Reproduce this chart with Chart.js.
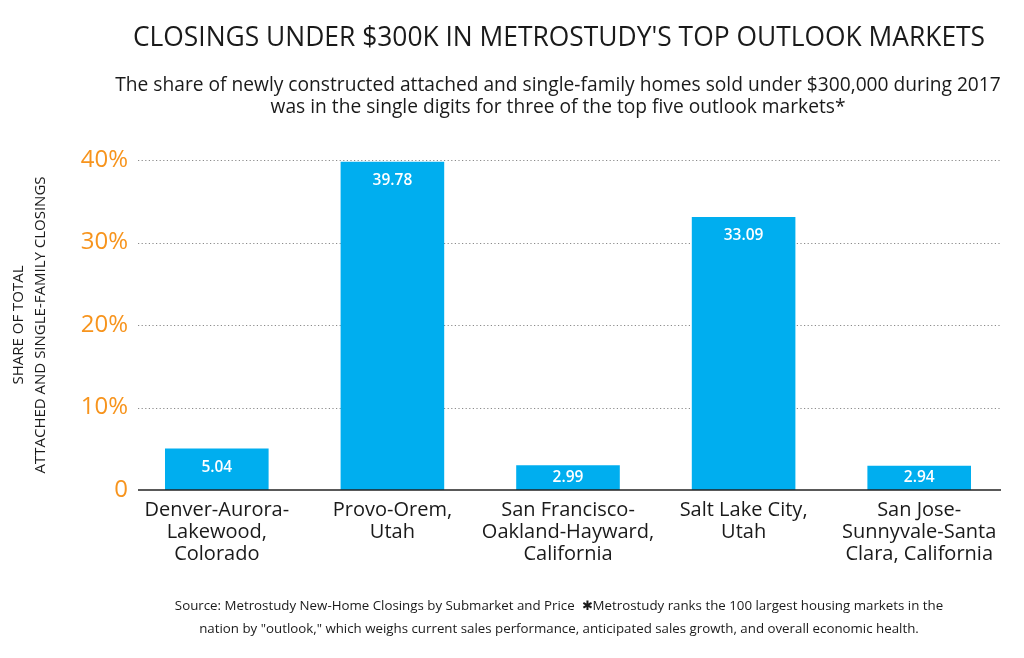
<!DOCTYPE html>
<html>
<head>
<meta charset="utf-8">
<script src="https://cdn.jsdelivr.net/npm/chart.js@4.4.1/dist/chart.umd.min.js"></script>
<style>
  html, body { margin: 0; padding: 0; background: #fff; }
  #wrap { width: 1024px; height: 658px; position: relative; }
</style>
</head>
<body>
<div id="wrap"><canvas id="closingsChart"></canvas></div>
<script>
// Data
const markets = [
    ['Denver-Aurora-', 'Lakewood,', 'Colorado'],
    ['Provo-Orem,', 'Utah'],
    ['San Francisco-', 'Oakland-Hayward,', 'California'],
    ['Salt Lake City,', 'Utah'],
    ['San Jose-', 'Sunnyvale-Santa', 'Clara, California']
];
const shareUnder300k = [5.04, 39.78, 2.99, 33.09, 2.94];
const yTicks = [0, 10, 20, 30, 40];

const titleText = "CLOSINGS UNDER $300K IN METROSTUDY'S TOP OUTLOOK MARKETS";
const subtitleLines = [
    'The share of newly constructed attached and single-family homes sold under $300,000 during 2017',
    'was in the single digits for three of the top five outlook markets*'
];
const footerLines = [
    'Source: Metrostudy New-Home Closings by Submarket and Price  \u2731Metrostudy ranks the 100 largest housing markets in the',
    'nation by "outlook," which weighs current sales performance, anticipated sales growth, and overall economic health.'
];

const barColor = '#00aeef';
const orange = '#f7941d';
const textColor = '#1a1a1a';
const fontFamily = "'Open Sans', 'Noto Sans', sans-serif";

// title, subtitle and footer text
const textPlugin = {
    id: 'textBlocks',
    afterDraw(chart) {
        const c = chart.ctx;
        c.save();
        c.fillStyle = textColor;
        c.textAlign = 'center';
        c.textBaseline = 'middle';
        c.font = `500 26.4px ${fontFamily}`;
        c.fillText(titleText, 559, 38);
        c.font = `500 19.2px ${fontFamily}`;
        subtitleLines.forEach((line, i) => c.fillText(line, 558, 86 + i * 22));
        c.font = `13.3px ${fontFamily}`;
        footerLines.forEach((line, i) => c.fillText(line, 559, 606 + i * 23));
        c.restore();
    }
};

// dotted grid lines and base line
const gridPlugin = {
    id: 'dottedGrid',
    beforeDatasetsDraw(chart) {
        const c = chart.ctx;
        const area = chart.chartArea;
        const y = chart.scales.y;
        const x0 = area.left + 9, x1 = area.right - 6;
        c.save();
        c.strokeStyle = '#8a8a8a';
        c.lineWidth = 1.2;
        c.setLineDash([1.2, 2.4]);
        yTicks.filter(v => v > 0).forEach(v => {
            const py = Math.round(y.getPixelForValue(v)) + 0.5;
            c.beginPath();
            c.moveTo(x0, py);
            c.lineTo(x1, py);
            c.stroke();
        });
        c.restore();
    },
    afterDatasetsDraw(chart) {
        const c = chart.ctx;
        const area = chart.chartArea;
        const py = chart.scales.y.getPixelForValue(0);
        c.save();
        c.strokeStyle = '#222';
        c.lineWidth = 1.5;
        c.beginPath();
        c.moveTo(area.left + 9, py);
        c.lineTo(area.right - 6, py);
        c.stroke();
        c.restore();
    }
};

// value labels inside bars
const barLabelPlugin = {
    id: 'barLabels',
    afterDatasetsDraw(chart) {
        const c = chart.ctx;
        const meta = chart.getDatasetMeta(0);
        c.save();
        c.fillStyle = '#fff';
        c.textAlign = 'center';
        c.textBaseline = 'middle';
        c.font = `600 15.5px ${fontFamily}`;
        meta.data.forEach((bar, i) => {
            const ty = Math.min(bar.y + 19, (bar.y + bar.base) / 2);
            c.fillText(shareUnder300k[i].toFixed(2), bar.x, ty);
        });
        c.restore();
    }
};

const ctx = document.getElementById('closingsChart').getContext('2d');
const chart = new Chart(ctx, {
    type: 'bar',
    data: {
        labels: markets,
        datasets: [{
            data: shareUnder300k,
            backgroundColor: barColor,
            borderWidth: 0,
            categoryPercentage: 1,
            barPercentage: 0.59
        }]
    },
    options: {
        responsive: true,
        maintainAspectRatio: false,
        animation: false,
        devicePixelRatio: 1,
        layout: {
            padding: { top: 160, left: 8, right: 17, bottom: 84 }
        },
        scales: {
            x: {
                grid: { display: false, drawTicks: false },
                border: { display: false },
                ticks: {
                    color: textColor,
                    font: { family: fontFamily, size: 20, weight: 500, lineHeight: 1.1 },
                    padding: 9,
                    maxRotation: 0,
                    autoSkip: false
                }
            },
            y: {
                min: 0,
                max: 40,
                afterFit(scale) { scale.width = 121; },
                afterBuildTicks(scale) { scale.ticks = yTicks.map(v => ({ value: v })); },
                grid: { display: false, drawTicks: false },
                border: { display: false },
                ticks: {
                    color: orange,
                    font: { family: fontFamily, size: 24, weight: 500 },
                    padding: 1,
                    callback: v => v === 0 ? '0' : v + '%'
                },
                title: {
                    display: true,
                    text: ['SHARE OF TOTAL', 'ATTACHED AND SINGLE-FAMILY CLOSINGS'],
                    color: textColor,
                    font: { family: fontFamily, size: 15, weight: 500, lineHeight: 1.45 },
                    padding: 0
                }
            }
        },
        plugins: {
            legend: { display: false },
            tooltip: { enabled: false }
        }
    },
    plugins: [gridPlugin, barLabelPlugin, textPlugin]
});
</script>
</body>
</html>
